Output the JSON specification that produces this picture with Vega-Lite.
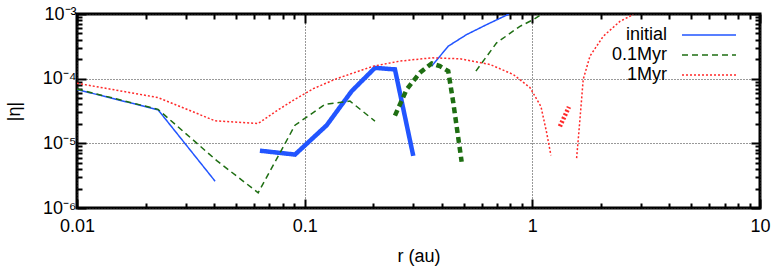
{
  "$schema": "https://vega.github.io/schema/vega-lite/v6.json",
  "width": 683,
  "height": 194,
  "autosize": {"type": "none"},
  "padding": {"left": 77, "top": 14, "right": 13, "bottom": 66},
  "background": "white",
  "config": {
    "view": {"stroke": "black", "strokeWidth": 3},
    "font": "Liberation Sans",
    "axis": {
      "labelFont": "Liberation Sans", "labelFontSize": 18, "labelColor": "black",
      "titleFont": "Liberation Sans", "titleFontSize": 18, "titleFontWeight": "normal", "titleColor": "black",
      "domain": false, "tickColor": "black", "tickWidth": 2,
      "labelFlush": false, "labelOverlap": false
    },
    "legend": {
      "orient": "none", "legendX": 622, "legendY": 11, "padding": 0,
      "labelFont": "Liberation Sans", "labelFontSize": 18, "labelColor": "black",
      "labelAlign": "right", "labelOffset": -52, "labelBaseline": "middle",
      "symbolType": "M-3,0H3", "symbolSize": 324, "symbolStrokeWidth": 1.5,
      "rowPadding": 1
    }
  },
  "data": {
    "values": [
      {"series": "initial", "seg": "i1", "w": "thin", "r": 0.01, "eta": 6.8e-5},
      {"series": "initial", "seg": "i1", "w": "thin", "r": 0.0227, "eta": 3.3e-5},
      {"series": "initial", "seg": "i1", "w": "thin", "r": 0.0404, "eta": 2.6e-6},
      {"series": "initial", "seg": "i2", "w": "thick", "r": 0.0636, "eta": 7.7e-6},
      {"series": "initial", "seg": "i2", "w": "thick", "r": 0.0907, "eta": 6.7e-6},
      {"series": "initial", "seg": "i2", "w": "thick", "r": 0.1249, "eta": 1.9e-5},
      {"series": "initial", "seg": "i2", "w": "thick", "r": 0.1608, "eta": 6.4e-5},
      {"series": "initial", "seg": "i2", "w": "thick", "r": 0.2036, "eta": 1.47e-4},
      {"series": "initial", "seg": "i2", "w": "thick", "r": 0.2492, "eta": 1.39e-4},
      {"series": "initial", "seg": "i2", "w": "thick", "r": 0.2999, "eta": 6.4e-6},
      {"series": "initial", "seg": "i3", "w": "thin", "r": 0.3613, "eta": 1.56e-4},
      {"series": "initial", "seg": "i3", "w": "thin", "r": 0.4272, "eta": 3.18e-4},
      {"series": "initial", "seg": "i3", "w": "thin", "r": 0.5147, "eta": 4.81e-4},
      {"series": "initial", "seg": "i3", "w": "thin", "r": 0.63, "eta": 6.85e-4},
      {"series": "initial", "seg": "i3", "w": "thin", "r": 0.79, "eta": 1.0e-3},

      {"series": "0.1Myr", "seg": "g1", "w": "thin", "r": 0.01, "eta": 6.9e-5},
      {"series": "0.1Myr", "seg": "g1", "w": "thin", "r": 0.0227, "eta": 3.35e-5},
      {"series": "0.1Myr", "seg": "g1", "w": "thin", "r": 0.0411, "eta": 5.4e-6},
      {"series": "0.1Myr", "seg": "g1", "w": "thin", "r": 0.0625, "eta": 1.72e-6},
      {"series": "0.1Myr", "seg": "g1", "w": "thin", "r": 0.0907, "eta": 1.91e-5},
      {"series": "0.1Myr", "seg": "g1", "w": "thin", "r": 0.1228, "eta": 4.0e-5},
      {"series": "0.1Myr", "seg": "g1", "w": "thin", "r": 0.1581, "eta": 4.5e-5},
      {"series": "0.1Myr", "seg": "g1", "w": "thin", "r": 0.2036, "eta": 2.2e-5},
      {"series": "0.1Myr", "seg": "g2", "w": "thick", "r": 0.2492, "eta": 2.68e-5},
      {"series": "0.1Myr", "seg": "g2", "w": "thick", "r": 0.2805, "eta": 6.8e-5},
      {"series": "0.1Myr", "seg": "g2", "w": "thick", "r": 0.3209, "eta": 1.24e-4},
      {"series": "0.1Myr", "seg": "g2", "w": "thick", "r": 0.3613, "eta": 1.72e-4},
      {"series": "0.1Myr", "seg": "g2", "w": "thick", "r": 0.3928, "eta": 1.56e-4},
      {"series": "0.1Myr", "seg": "g2", "w": "thick", "r": 0.4272, "eta": 1.31e-4},
      {"series": "0.1Myr", "seg": "g2", "w": "thick", "r": 0.4494, "eta": 4.3e-5},
      {"series": "0.1Myr", "seg": "g2", "w": "thick", "r": 0.4892, "eta": 5.2e-6},
      {"series": "0.1Myr", "seg": "g3", "w": "thin", "r": 0.5651, "eta": 1.31e-4},
      {"series": "0.1Myr", "seg": "g3", "w": "thin", "r": 0.6967, "eta": 3.58e-4},
      {"series": "0.1Myr", "seg": "g3", "w": "thin", "r": 0.882, "eta": 6.44e-4},
      {"series": "0.1Myr", "seg": "g3", "w": "thin", "r": 1.009, "eta": 8.17e-4},
      {"series": "0.1Myr", "seg": "g3", "w": "thin", "r": 1.102, "eta": 1.0e-3},

      {"series": "1Myr", "seg": "r1", "w": "thin", "r": 0.01, "eta": 8.5e-5},
      {"series": "1Myr", "seg": "r1", "w": "thin", "r": 0.0227, "eta": 5.1e-5},
      {"series": "1Myr", "seg": "r1", "w": "thin", "r": 0.0404, "eta": 2.23e-5},
      {"series": "1Myr", "seg": "r1", "w": "thin", "r": 0.0625, "eta": 2.03e-5},
      {"series": "1Myr", "seg": "r1", "w": "thin", "r": 0.0753, "eta": 3.18e-5},
      {"series": "1Myr", "seg": "r1", "w": "thin", "r": 0.0907, "eta": 4.81e-5},
      {"series": "1Myr", "seg": "r1", "w": "thin", "r": 0.1091, "eta": 7.0e-5},
      {"series": "1Myr", "seg": "r1", "w": "thin", "r": 0.1382, "eta": 1.0e-4},
      {"series": "1Myr", "seg": "r1", "w": "thin", "r": 0.2001, "eta": 1.56e-4},
      {"series": "1Myr", "seg": "r1", "w": "thin", "r": 0.2621, "eta": 1.87e-4},
      {"series": "1Myr", "seg": "r1", "w": "thin", "r": 0.3613, "eta": 2.1e-4},
      {"series": "1Myr", "seg": "r1", "w": "thin", "r": 0.4808, "eta": 2.03e-4},
      {"series": "1Myr", "seg": "r1", "w": "thin", "r": 0.6513, "eta": 1.66e-4},
      {"series": "1Myr", "seg": "r1", "w": "thin", "r": 0.8244, "eta": 1.16e-4},
      {"series": "1Myr", "seg": "r1", "w": "thin", "r": 0.9761, "eta": 7.3e-5},
      {"series": "1Myr", "seg": "r1", "w": "thin", "r": 1.091, "eta": 3.7e-5},
      {"series": "1Myr", "seg": "r1", "w": "thin", "r": 1.155, "eta": 1.48e-5},
      {"series": "1Myr", "seg": "r1", "w": "thin", "r": 1.207, "eta": 6.5e-6},
      {"series": "1Myr", "seg": "r2", "w": "thick", "r": 1.322, "eta": 1.83e-5},
      {"series": "1Myr", "seg": "r2", "w": "thick", "r": 1.448, "eta": 3.66e-5},
      {"series": "1Myr", "seg": "r3", "w": "thin", "r": 1.565, "eta": 5.9e-6},
      {"series": "1Myr", "seg": "r3", "w": "thin", "r": 1.619, "eta": 2.37e-5},
      {"series": "1Myr", "seg": "r3", "w": "thin", "r": 1.673, "eta": 9.75e-5},
      {"series": "1Myr", "seg": "r3", "w": "thin", "r": 1.791, "eta": 2.23e-4},
      {"series": "1Myr", "seg": "r3", "w": "thin", "r": 2.048, "eta": 4.52e-4},
      {"series": "1Myr", "seg": "r3", "w": "thin", "r": 2.425, "eta": 7.69e-4},
      {"series": "1Myr", "seg": "r3", "w": "thin", "r": 2.774, "eta": 9.8e-4}
    ]
  },
  "resolve": {"axis": {"x": "independent", "y": "independent"}},
  "layer": [
    {
      "mark": {"type": "line", "clip": true, "strokeCap": "butt", "strokeJoin": "miter"},
      "encoding": {
        "x": {"field": "r", "type": "quantitative",
          "scale": {"type": "log", "domain": [0.01, 10], "nice": false},
          "axis": {"orient": "bottom", "values": [0.01, 0.1, 1, 10], "format": "~g",
            "tickSize": -9, "grid": true, "gridDash": [1, 2], "gridColor": "#333", "gridWidth": 1,
            "labelPadding": 18, "title": "r (au)", "titlePadding": 12}},
        "y": {"field": "eta", "type": "quantitative",
          "scale": {"type": "log", "domain": [1e-6, 1e-3], "nice": false},
          "axis": {"orient": "left", "values": [1e-6, 1e-5, 1e-4, 1e-3],
            "labelExpr": "datum.value >= 0.0009 ? '10⁻³' : datum.value >= 0.00009 ? '10⁻⁴' : datum.value >= 0.000009 ? '10⁻⁵' : '10⁻⁶'",
            "tickSize": -9, "grid": true, "gridDash": [1, 2], "gridColor": "#333", "gridWidth": 1,
            "labelPadding": 10, "title": "|η|", "titlePadding": 19}},
        "color": {"field": "series", "type": "nominal",
          "scale": {"domain": ["initial", "0.1Myr", "1Myr"], "range": ["#2255ff", "#1e6e12", "#ff2a2a"]},
          "legend": {"title": null}},
        "strokeDash": {"field": "series", "type": "nominal",
          "scale": {"domain": ["initial", "0.1Myr", "1Myr"], "range": [[1, 0], [6, 4], [2, 2]]},
          "legend": {"title": null}},
        "strokeWidth": {"field": "w", "type": "nominal",
          "scale": {"domain": ["thin", "thick"], "range": [1.5, 4.5]}, "legend": null},
        "detail": {"field": "seg", "type": "nominal"}
      }
    },
    {
      "mark": {"type": "point", "opacity": 0},
      "encoding": {
        "x": {"field": "r", "type": "quantitative",
          "axis": {"orient": "bottom", "values": [0.02,0.03,0.04,0.05,0.06,0.07,0.08,0.09,0.2,0.3,0.4,0.5,0.6,0.7,0.8,0.9,2,3,4,5,6,7,8,9],
            "labels": false, "grid": false, "tickSize": -5, "title": null}},
        "y": {"field": "eta", "type": "quantitative",
          "axis": {"orient": "left", "values": [2e-6,3e-6,4e-6,5e-6,6e-6,7e-6,8e-6,9e-6,2e-5,3e-5,4e-5,5e-5,6e-5,7e-5,8e-5,9e-5,2e-4,3e-4,4e-4,5e-4,6e-4,7e-4,8e-4,9e-4],
            "labels": false, "grid": false, "tickSize": -5, "title": null}}
      }
    },
    {
      "mark": {"type": "point", "opacity": 0},
      "encoding": {
        "x": {"field": "r", "type": "quantitative",
          "axis": {"orient": "top", "values": [0.01, 0.1, 1, 10], "labels": false, "grid": false, "tickSize": -9, "title": null}},
        "y": {"field": "eta", "type": "quantitative",
          "axis": {"orient": "right", "values": [1e-6, 1e-5, 1e-4, 1e-3], "labels": false, "grid": false, "tickSize": -9, "title": null}}
      }
    },
    {
      "mark": {"type": "point", "opacity": 0},
      "encoding": {
        "x": {"field": "r", "type": "quantitative",
          "axis": {"orient": "top", "values": [0.02,0.03,0.04,0.05,0.06,0.07,0.08,0.09,0.2,0.3,0.4,0.5,0.6,0.7,0.8,0.9,2,3,4,5,6,7,8,9],
            "labels": false, "grid": false, "tickSize": -5, "title": null}},
        "y": {"field": "eta", "type": "quantitative",
          "axis": {"orient": "right", "values": [2e-6,3e-6,4e-6,5e-6,6e-6,7e-6,8e-6,9e-6,2e-5,3e-5,4e-5,5e-5,6e-5,7e-5,8e-5,9e-5,2e-4,3e-4,4e-4,5e-4,6e-4,7e-4,8e-4,9e-4],
            "labels": false, "grid": false, "tickSize": -5, "title": null}}
      }
    }
  ]
}
